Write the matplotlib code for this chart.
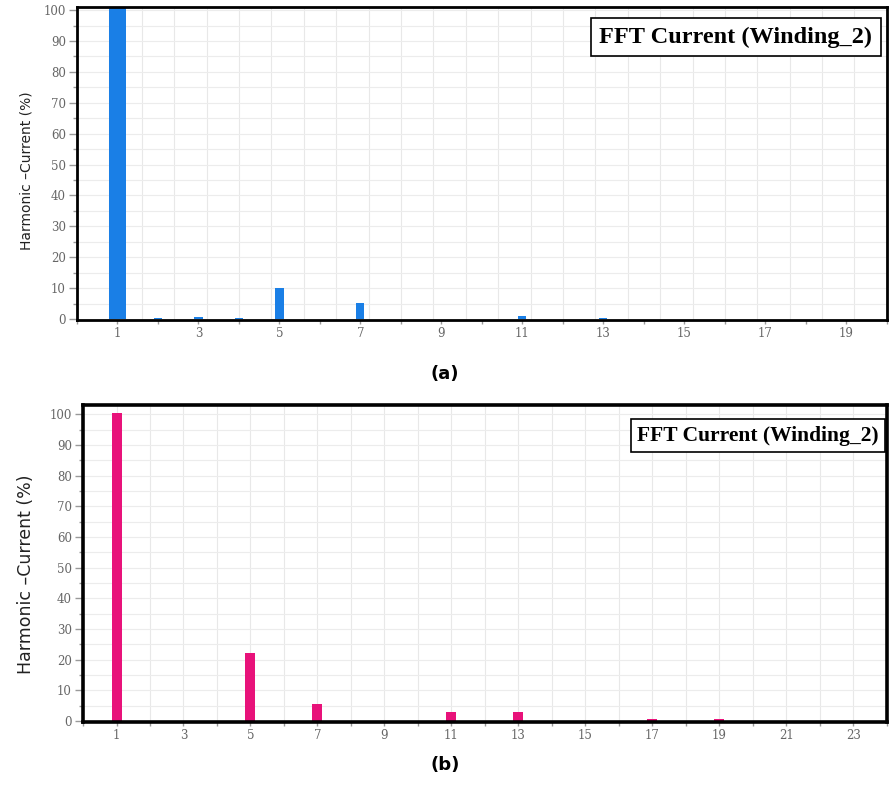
import numpy as np
import matplotlib
matplotlib.use("Agg")
import matplotlib.pyplot as plt
from matplotlib.ticker import MultipleLocator

# harmonic order and harmonic current (% of fundamental)
orders_a = [1, 2, 3, 4, 5, 7, 11, 13]
current_a = [101, 0.3, 0.8, 0.3, 10.2, 5.3, 1.0, 0.3]

orders_b = [1, 5, 7, 11, 13, 17, 19]
current_b = [100.5, 22.0, 5.5, 3.0, 2.8, 0.7, 0.6]

ticks_a = [1, 3, 5, 7, 9, 11, 13, 15, 17, 19]
ticks_b = [1, 3, 5, 7, 9, 11, 13, 15, 17, 19, 21, 23]
yticks = [0, 10, 20, 30, 40, 50, 60, 70, 80, 90, 100]

title = "FFT Current (Winding_2)"
ylabel = "Harmonic \u2013Current (%)"

fig = plt.figure(figsize=(8.9, 7.85), dpi=100)
ax1 = fig.add_axes([0.0865, 0.592, 0.910, 0.399])
ax2 = fig.add_axes([0.0933, 0.080, 0.903, 0.404])


def style(ax, xmax, ymax, xticks, lw, vgrid):
    ax.set_xlim(0, xmax)
    ax.set_ylim(-0.4, ymax)
    ax.set_xticks(xticks)
    ax.set_xticks(np.arange(0, xmax + 1, 1), minor=True)
    ax.set_yticks(yticks)
    ax.yaxis.set_minor_locator(MultipleLocator(5))
    for t in ax.get_xticklabels() + ax.get_yticklabels():
        t.set_fontfamily("DejaVu Serif")
        t.set_fontsize(8.5)
        t.set_color("#666666")
    ax.tick_params(which="both", direction="out", color="#999999", length=3, width=1, pad=2)
    ax.tick_params(axis="y", which="major", length=6)
    # background grid
    for v in vgrid:
        ax.axvline(v, color="#e8e8e8", lw=0.8, zorder=0)
    for h in np.arange(5, ymax, 5):
        ax.axhline(h, color="#ececec", lw=0.8, zorder=0)
    for s in ax.spines.values():
        s.set_linewidth(lw)
        s.set_color("black")


ax1.bar(orders_a, current_a, width=0.2, color="#1a7fe6", zorder=2)
style(ax1, 20, 101, ticks_a, 2.0, np.arange(0.8, 20, 0.8))
ax1.patches[0].set_width(0.42)
ax1.patches[0].set_x(1 - 0.21)
ax1.text(0.982, 0.938, title, transform=ax1.transAxes, ha="right", va="top",
         fontfamily="Liberation Serif", fontweight="bold", fontsize=17.5,
         bbox=dict(boxstyle="square,pad=0.35", fc="white", ec="black", lw=1.2), zorder=5)

ax2.bar(orders_b, current_b, width=0.3, color="#e8127a", zorder=2)
style(ax2, 24, 103, ticks_b, 2.6, np.arange(1, 24, 1))
ax2.text(0.990, 0.935, title, transform=ax2.transAxes, ha="right", va="top",
         fontfamily="Liberation Serif", fontweight="bold", fontsize=15.5,
         bbox=dict(boxstyle="square,pad=0.3", fc="white", ec="black", lw=1.2), zorder=5)

fig.text(0.030, 0.783, ylabel, rotation=90, ha="center", va="center",
         fontfamily="DejaVu Sans", fontsize=10, color="#222222")
fig.text(0.029, 0.268, ylabel, rotation=90, ha="center", va="center",
         fontfamily="DejaVu Sans", fontsize=12.5, color="#222222")

fig.text(0.5, 0.524, "(a)", ha="center", va="center", fontfamily="DejaVu Sans",
         fontweight="bold", fontsize=13)
fig.text(0.5, 0.026, "(b)", ha="center", va="center", fontfamily="DejaVu Sans",
         fontweight="bold", fontsize=13)

fig.savefig("out.png", dpi=100)
